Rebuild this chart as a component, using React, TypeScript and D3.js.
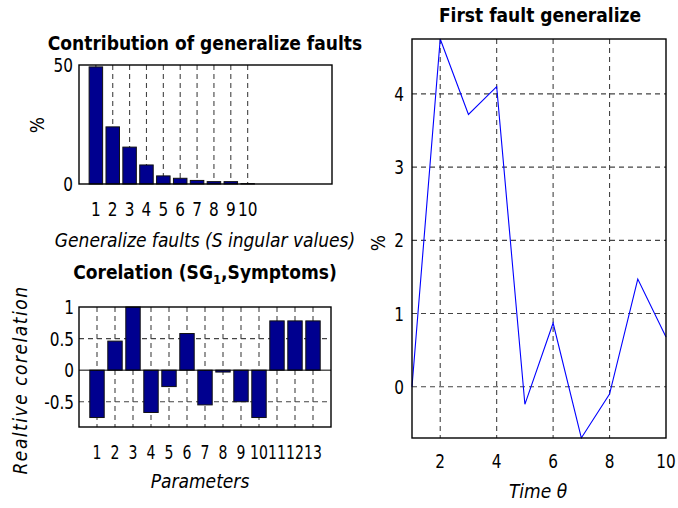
import React from "react";
import * as d3 from "d3";

const contribIdx = [1, 2, 3, 4, 5, 6, 7, 8, 9, 10];
const contribVals = [49.2, 24, 15.5, 8, 3.4, 2.4, 1.5, 1.0, 1.0, 0.15];
const contribYTicks = [0, 50];

const corrIdx = [1, 2, 3, 4, 5, 6, 7, 8, 9, 10, 11, 12, 13];
const corrVals = [-0.75, 0.46, 1.0, -0.67, -0.26, 0.58, -0.55, -0.03, -0.5, -0.75, 0.78, 0.78, 0.78];
const corrYTicks = [-0.5, 0, 0.5, 1];
const corrYLabels = ["-0.5", "0", "0.5", "1"];

const timeVals = [1, 2, 3, 4, 5, 6, 7, 8, 9, 10];
const faultVals = [0, 4.75, 3.72, 4.1, -0.24, 0.87, -0.7, -0.1, 1.47, 0.68];
const faultXTicks = [2, 4, 6, 8, 10];
const faultYTicks = [0, 1, 2, 3, 4];

const FONT = "'DejaVu Sans Condensed', 'Liberation Sans Narrow', sans-serif";
const BAR = "#00008f";
const GRID = "#444";
const DASH = "5,4";

function Frame({ x0, x1, y0, y1 }: { x0: number; x1: number; y0: number; y1: number }) {
  return <rect x={x0} y={y0} width={x1 - x0} height={y1 - y0} fill="none" stroke="#000" strokeWidth={1.4} />;
}

export default function App() {
  // Top-left
  const a = { x0: 79, x1: 332, y0: 65, y1: 184 };
  const ax = d3.scaleLinear().domain([0, 15]).range([a.x0, a.x1]);
  const ay = d3.scaleLinear().domain([0, 50]).range([a.y1, a.y0]);
  const aw = (ax(1) - ax(0)) * 0.8;

  // Bottom-left
  const b = { x0: 79, x1: 331, y0: 307, y1: 427 };
  const bx = d3.scaleLinear().domain([0, 14]).range([b.x0, b.x1]);
  const by = d3.scaleLinear().domain([-0.9, 1]).range([b.y1, b.y0]);
  const bw = (bx(1) - bx(0)) * 0.8;

  // Right
  const c = { x0: 412, x1: 666, y0: 39, y1: 438 };
  const cx = d3.scaleLinear().domain([1, 10]).range([c.x0, c.x1]);
  const cy = d3.scaleLinear().domain([-0.7, 4.75]).range([c.y1, c.y0]);
  const line = d3.line<number>().x((_, i) => cx(timeVals[i])).y((d) => cy(d));

  return (
    <svg width={678} height={508} style={{ position: "absolute", left: 0, top: 0, background: "#fff" }} fontFamily={FONT}>
      <rect width={678} height={508} fill="#fff" />

      {/* ===== Top-left chart ===== */}
      <text x={205} y={50} textAnchor="middle" fontWeight="bold" fontSize={19}>Contribution of generalize faults</text>
      {contribIdx.map((t) => (
        <line key={"ag" + t} x1={ax(t)} x2={ax(t)} y1={a.y0} y2={a.y1} stroke={GRID} strokeDasharray={DASH} strokeWidth={1.1} />
      ))}
      {contribVals.map((v, i) => (
        <rect key={"ab" + i} x={ax(contribIdx[i]) - aw / 2} y={ay(v)} width={aw} height={ay(0) - ay(v)} fill={BAR} stroke="#111" strokeWidth={1} />
      ))}
      <Frame {...a} />
      {contribYTicks.map((t) => (
        <text key={"ayt" + t} transform={`translate(${a.x0 - 6},${ay(t) + 7}) scale(0.85,1)`} textAnchor="end" fontSize={20}>{t}</text>
      ))}
      {contribIdx.map((t) => (
        <text key={"axt" + t} transform={`translate(${ax(t)},216) scale(0.85,1)`} textAnchor="middle" fontSize={20}>{t}</text>
      ))}
      <text x={205} y={247} textAnchor="middle" fontStyle="italic" fontSize={19}>Generalize faults (S ingular values)</text>
      <text transform="translate(44,125) rotate(-90)" textAnchor="middle" fontSize={19}>%</text>

      {/* ===== Bottom-left chart ===== */}
      <text x={205} y={279} textAnchor="middle" fontWeight="bold" fontSize={19}>
        Corelation (SG<tspan dy={5} fontSize={13}>1</tspan><tspan dy={-5}>,Symptoms)</tspan>
      </text>
      {corrIdx.map((t) => (
        <line key={"bg" + t} x1={bx(t)} x2={bx(t)} y1={b.y0} y2={b.y1} stroke={GRID} strokeDasharray={DASH} strokeWidth={1.1} />
      ))}
      {[-0.5, 0.5].map((t) => (
        <line key={"bh" + t} x1={b.x0} x2={b.x1} y1={by(t)} y2={by(t)} stroke={GRID} strokeDasharray={DASH} strokeWidth={1.1} />
      ))}
      {corrVals.map((v, i) => (
        <rect key={"bb" + i} x={bx(corrIdx[i]) - bw / 2} y={by(Math.max(v, 0))} width={bw} height={Math.abs(by(v) - by(0))} fill={BAR} stroke="#111" strokeWidth={1} />
      ))}
      <line x1={b.x0} x2={b.x1} y1={by(0)} y2={by(0)} stroke="#000" strokeWidth={1} />
      <Frame {...b} />
      {corrYTicks.map((t, i) => (
        <text key={"byt" + t} transform={`translate(${b.x0 - 5},${by(t) + 7}) scale(0.85,1)`} textAnchor="end" fontSize={20}>{corrYLabels[i]}</text>
      ))}
      {corrIdx.map((t) => (
        <text key={"bxt" + t} transform={`translate(${bx(t)},459) scale(0.78,1)`} textAnchor="middle" fontSize={20}>{t}</text>
      ))}
      <text x={200} y={488} textAnchor="middle" fontStyle="italic" fontSize={19}>Parameters</text>
      <text transform="translate(27,380) rotate(-90)" textAnchor="middle" fontStyle="italic" fontSize={19} letterSpacing={1.5}>Realtive corelation</text>

      {/* ===== Right chart ===== */}
      <text x={540} y={22} textAnchor="middle" fontWeight="bold" fontSize={19}>First fault generalize</text>
      {faultXTicks.filter((t) => t < 10).map((t) => (
        <line key={"cg" + t} x1={cx(t)} x2={cx(t)} y1={c.y0} y2={c.y1} stroke={GRID} strokeDasharray={DASH} strokeWidth={1.1} />
      ))}
      {faultYTicks.map((t) => (
        <line key={"ch" + t} x1={c.x0} x2={c.x1} y1={cy(t)} y2={cy(t)} stroke={GRID} strokeDasharray={DASH} strokeWidth={1.1} />
      ))}
      <path d={line(faultVals) || ""} fill="none" stroke="#0000ff" strokeWidth={1.1} />
      <Frame {...c} />
      {faultYTicks.map((t) => (
        <text key={"cyt" + t} transform={`translate(${c.x0 - 8},${cy(t) + 7}) scale(0.85,1)`} textAnchor="end" fontSize={20}>{t}</text>
      ))}
      {faultXTicks.map((t) => (
        <text key={"cxt" + t} transform={`translate(${cx(t)},468) scale(0.85,1)`} textAnchor="middle" fontSize={20}>{t}</text>
      ))}
      <text x={538} y={498} textAnchor="middle" fontStyle="italic" fontSize={19}>Time θ</text>
      <text transform="translate(385,243) rotate(-90)" textAnchor="middle" fontSize={19}>%</text>
    </svg>
  );
}
